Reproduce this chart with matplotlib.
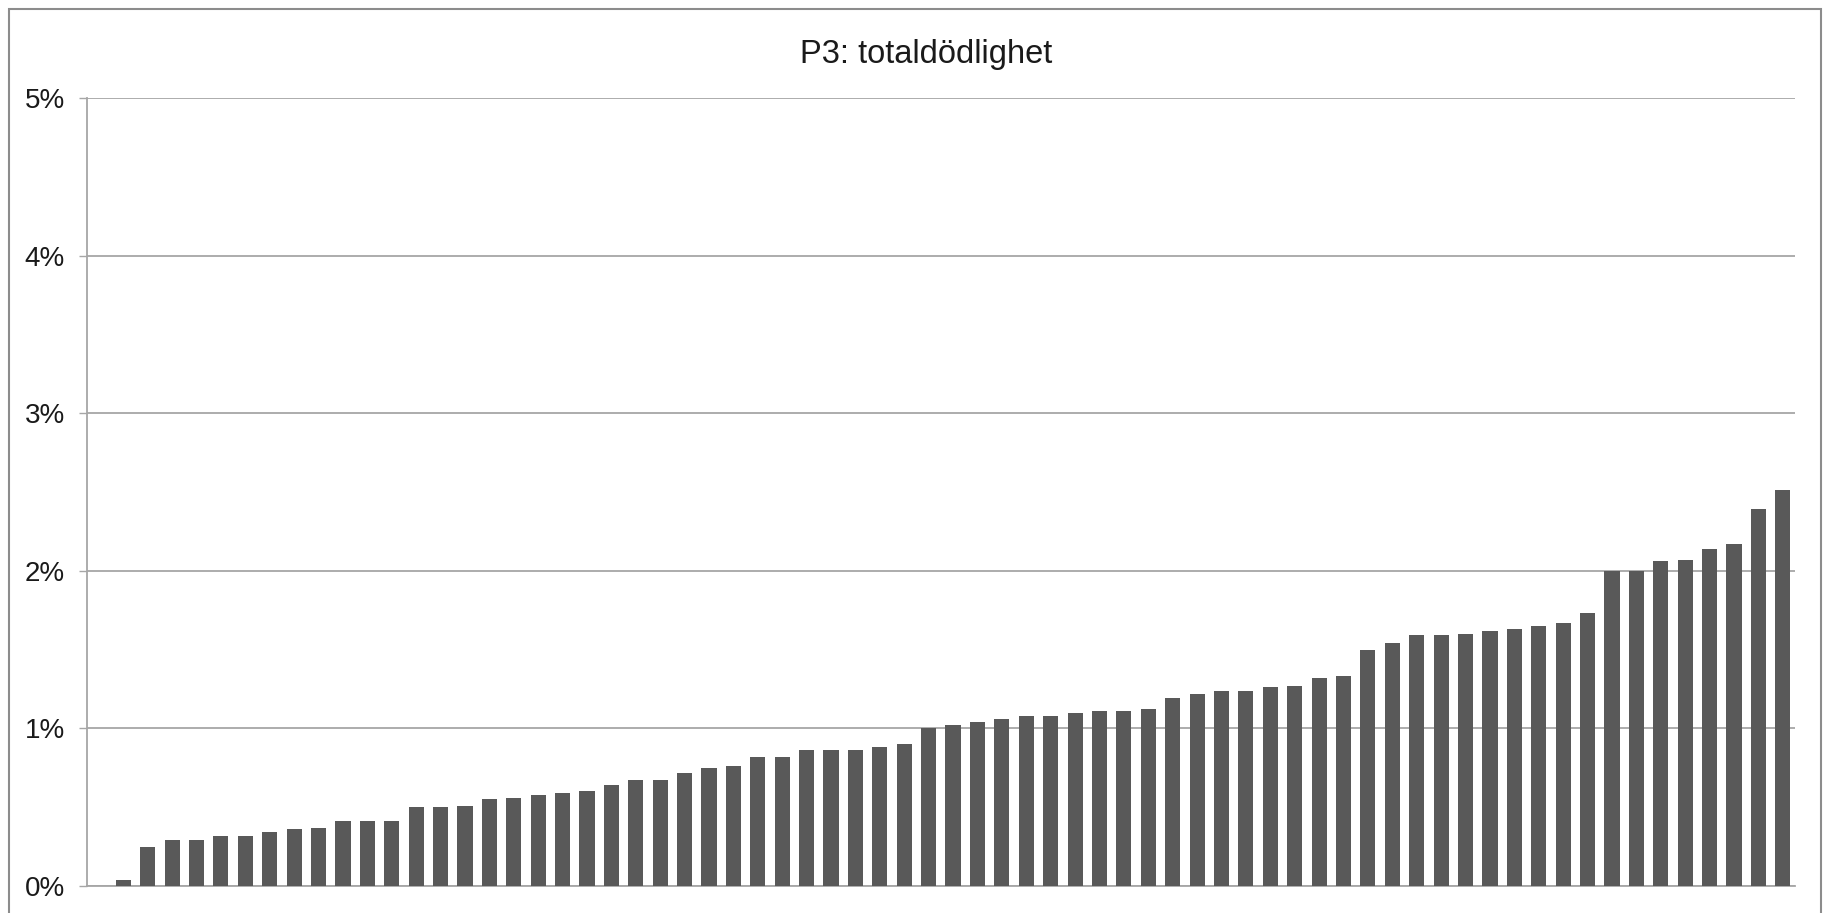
"""Bar chart of total mortality per unit (P3), sorted ascending."""
import matplotlib
matplotlib.use("Agg")
import matplotlib.pyplot as plt
from matplotlib.patches import Rectangle
from matplotlib.ticker import FuncFormatter

plt.rcParams["font.family"] = ["Liberation Sans", "DejaVu Sans"]

title = "P3: totaldödlighet"

# Share of deaths in percent, one bar per unit (first category is empty)
values = [
    0.04, 0.25, 0.29, 0.29, 0.32, 0.32, 0.34, 0.36, 0.37, 0.41,
    0.41, 0.41, 0.50, 0.50, 0.51, 0.55, 0.56, 0.58, 0.59, 0.60,
    0.64, 0.67, 0.67, 0.72, 0.75, 0.76, 0.82, 0.82, 0.86, 0.86,
    0.86, 0.88, 0.90, 1.00, 1.02, 1.04, 1.06, 1.08, 1.08, 1.10,
    1.11, 1.11, 1.12, 1.19, 1.22, 1.24, 1.24, 1.26, 1.27, 1.32,
    1.33, 1.50, 1.54, 1.59, 1.59, 1.60, 1.62, 1.63, 1.65, 1.67,
    1.73, 2.00, 2.00, 2.06, 2.07, 2.14, 2.17, 2.39, 2.51,
]
positions = list(range(1, len(values) + 1))
y_ticks = [0, 1, 2, 3, 4, 5]

W, H = 1823, 913
fig = plt.figure(figsize=(W / 100, H / 100), dpi=100)
ax = fig.add_axes([86.7 / W, 27 / H, (1795 - 86.7) / W, (886 - 98) / H])

grid_col = "#a6a6a6"
ax.bar(positions, values, width=0.62, color="#595959", zorder=3)

ax.set_xlim(-0.5, len(values) + 0.5)
ax.set_ylim(0, 5)
ax.set_yticks(y_ticks)
ax.yaxis.set_major_formatter(FuncFormatter(lambda v, _: f"{v:.0f}%"))
ax.set_xticks([])
ax.grid(axis="y", color=grid_col, linewidth=1.3, zorder=0)

for side in ["top", "right"]:
    ax.spines[side].set_visible(False)
ax.spines["left"].set_color(grid_col)
ax.spines["left"].set_linewidth(1.3)
ax.spines["bottom"].set_color(grid_col)
ax.spines["bottom"].set_linewidth(1.3)
ax.tick_params(axis="y", length=5.8, width=1.0, color=grid_col,
               pad=10, labelsize=20, labelcolor="#1a1a1a")

fig.text(926 / W, 1 - 55 / H, title, ha="center", va="center",
         fontsize=23.5, color="#1a1a1a")

# outer chart frame
fig.patches.append(Rectangle((8.7 / W, -0.05), (1821 - 8.7) / W, 1.05 - 9 / H,
                             transform=fig.transFigure, fill=False,
                             edgecolor="#8c8c8c", linewidth=1.5))

plt.savefig("out.png", dpi=100)
